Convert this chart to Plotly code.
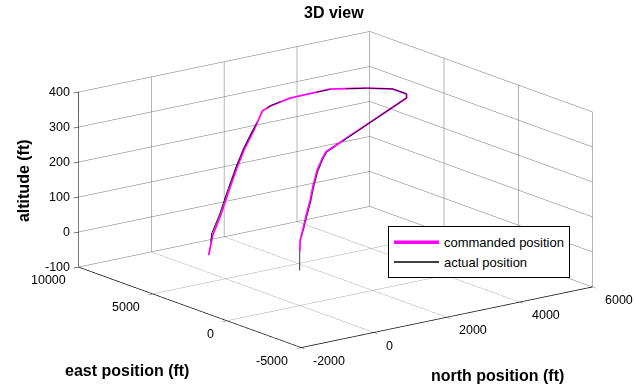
import plotly.graph_objects as go

# Commanded trajectory (ft)
cmd_north = [0, 17, 146, 273, 445, 573, 743, 957, 1127, 5118, 5309, 5306, 4903, 4214,
             3090, 2360, 1982, 1564, 1042, 624, 203, -215, -633, -842]
cmd_east = [0, 15, 127, 240, 391, 504, 654, 841, 993, 5358, 5828, 6758, 7512, 8299,
            8221, 7769, 7378, 6888, 6276, 5785, 5293, 4803, 4312, 4068]
cmd_alt = [55, 86, 116, 148, 185, 223, 260, 286, 300, 300, 300, 300, 300, 300,
           300, 300, 300, 265, 229, 189, 140, 89, 49, 0]

# Actual (flown) trajectory (ft)
act_north = [0, 0, 25, 160, 290, 462, 590, 760, 972, 1140, 5100, 5290, 5300, 4910,
             4220, 3100, 2370, 1990, 1540, 1020, 600, 180, -240, -660, -738]
act_east = [0, 0, 10, 118, 228, 380, 492, 640, 830, 985, 5340, 5810, 6740, 7500,
            8290, 8230, 7780, 7390, 6900, 6290, 5800, 5310, 4820, 4330, 4191]
act_alt = [0, 50, 84, 114, 146, 183, 221, 258, 284, 298, 301, 302, 301, 300,
           299, 300, 301, 299, 266, 231, 191, 143, 92, 52, 33]

# Axis ranges and tick labels
north_range = [-2000, 6000]
east_range = [-5000, 10000]
alt_range = [-100, 400]
north_ticks = [-2000, 0, 2000, 4000, 6000]
north_labels = ["-2000", "0", "2000", "4000", "6000"]
east_ticks = [-5000, 0, 5000, 10000]
east_labels = ["-5000", "0", "5000", "10000"]
alt_ticks = [-100, 0, 100, 200, 300, 400]
alt_labels = ["-100", "0", "100", "200", "300", "400"]

FONT = "Liberation Sans, Arial, sans-serif"
TICK_FONT = dict(family=FONT, size=12.5, color="black")
LABEL_FONT = dict(family=FONT, size=16, color="black")

fig = go.Figure()
fig.add_trace(go.Scatter3d(
    x=cmd_north, y=cmd_east, z=cmd_alt, mode="lines",
    line=dict(color="#ff00ff", width=3.5), name="commanded position"))
fig.add_trace(go.Scatter3d(
    x=act_north, y=act_east, z=act_alt, mode="lines",
    line=dict(color="black", width=1.5), name="actual position"))

# Tick marks stay on the axes; their built-in labels are made invisible and
# replaced by upright scene annotations below.
axis_style = dict(
    showbackground=False, gridcolor="#6e6e6e", gridwidth=1, zeroline=False,
    showline=True, linecolor="black", linewidth=1.5,
    ticks="outside", ticklen=6, tickcolor="black", tickwidth=1,
    showticklabels=True, tickfont=dict(family=FONT, size=10, color="rgba(0,0,0,0)"),
    title=dict(text=""), showspikes=False,
)

tick_notes = []
for v, t in zip(alt_ticks, alt_labels):
    tick_notes.append(dict(x=north_range[0], y=east_range[1], z=v, text=t,
                           showarrow=False, xanchor="right", yanchor="middle",
                           xshift=-7, font=TICK_FONT))
for v, t in zip(east_ticks, east_labels):
    tick_notes.append(dict(x=north_range[0], y=v, z=alt_range[0], text=t,
                           showarrow=False, xanchor="right", yanchor="top",
                           xshift=-11, yshift=-4, font=TICK_FONT))
for v, t in zip(north_ticks, north_labels):
    tick_notes.append(dict(x=v, y=east_range[0], z=alt_range[0], text=t,
                           showarrow=False, xanchor="left", yanchor="top",
                           xshift=10, yshift=-4, font=TICK_FONT))

# Box proportions for the orthographic view
box_scale = 1.93

fig.update_layout(
    width=635, height=390,
    margin=dict(l=0, r=0, t=0, b=0),
    paper_bgcolor="white",
    showlegend=True,
    legend=dict(x=0.611, y=0.42, xanchor="left", yanchor="top",
                bgcolor="white", bordercolor="black", borderwidth=1,
                itemwidth=45,
                font=dict(family=FONT, size=13, color="black")),
    scene=dict(
        domain=dict(x=[0.057, 1.0], y=[0.028, 1.0]),
        xaxis=dict(range=north_range, tickvals=north_ticks, ticktext=north_labels, **axis_style),
        yaxis=dict(range=east_range, tickvals=east_ticks, ticktext=east_labels, **axis_style),
        zaxis=dict(range=alt_range, tickvals=alt_ticks, ticktext=alt_labels, **axis_style),
        aspectmode="manual",
        aspectratio=dict(x=1.0 * box_scale, y=1.0075 * box_scale, z=0.4976 * box_scale),
        camera=dict(
            projection=dict(type="orthographic"),
            up=dict(x=0, y=0, z=1),
            center=dict(x=0, y=0, z=0),
            eye=dict(x=-0.5813 * 3, y=-0.7661 * 3, z=0.2744 * 3),
        ),
        annotations=tick_notes,
    ),
    annotations=[
        dict(text="<b>3D view</b>", x=0.526, y=0.967, xref="paper", yref="paper",
             xanchor="center", yanchor="middle", showarrow=False, font=LABEL_FONT),
        dict(text="<b>altitude (ft)</b>", x=0.038, y=0.536, xref="paper", yref="paper",
             xanchor="center", yanchor="middle", textangle=-90, showarrow=False,
             font=LABEL_FONT),
        dict(text="<b>east position (ft)</b>", x=0.2, y=0.049, xref="paper", yref="paper",
             xanchor="center", yanchor="middle", showarrow=False, font=LABEL_FONT),
        dict(text="<b>north position (ft)</b>", x=0.783, y=0.036, xref="paper", yref="paper",
             xanchor="center", yanchor="middle", showarrow=False, font=LABEL_FONT),
    ],
)

fig.write_html("out.html")
